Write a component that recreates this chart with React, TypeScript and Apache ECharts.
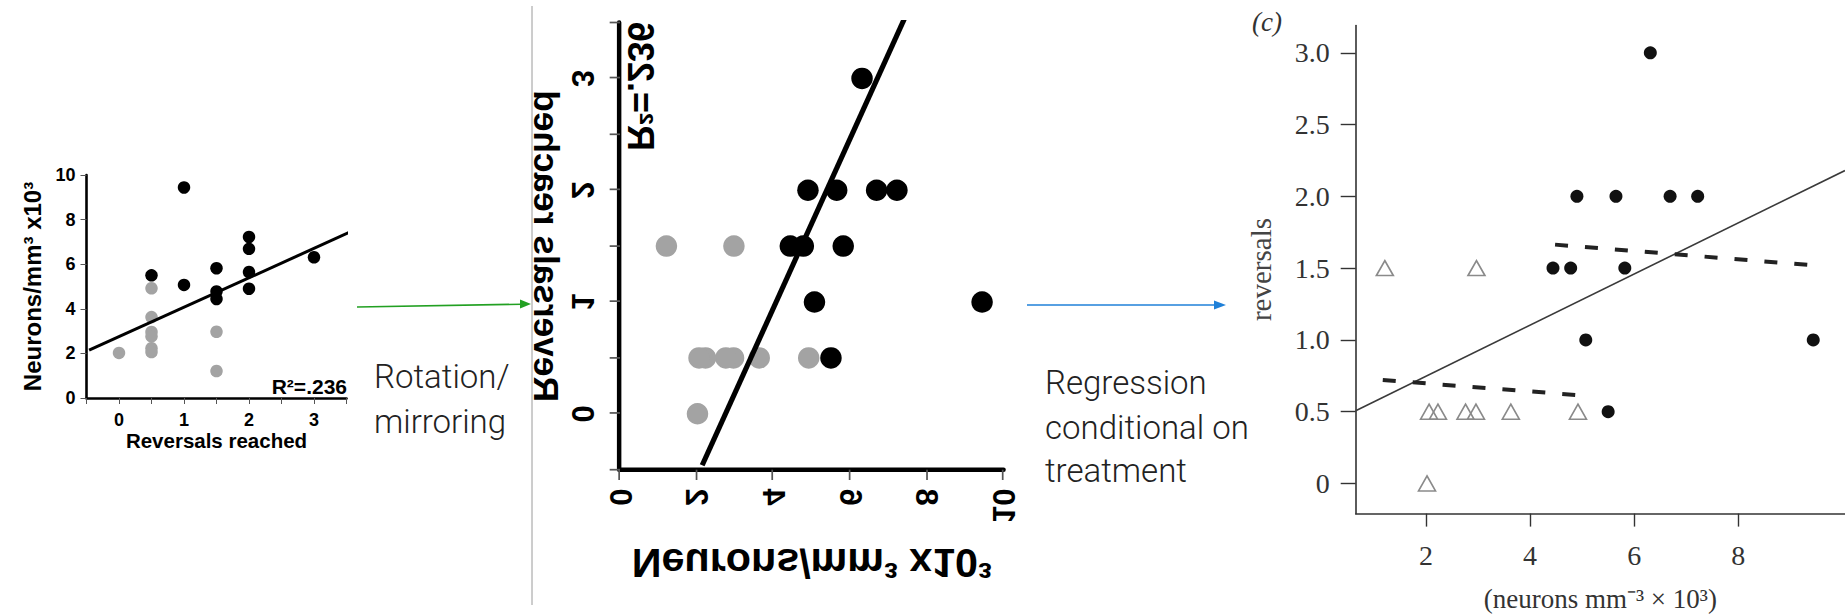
import React, { useEffect, useRef } from 'react';
import * as echarts from 'echarts';

// ---------- data ----------
const TREATED_REVERSALS = [1, 0.5, 1, 1.5, 1.5, 1.5, 2, 2, 2, 2, 3];
const TREATED_NEURONS = [9.44, 5.5, 5.07, 5.82, 4.78, 4.44, 7.22, 6.69, 5.65, 4.9, 6.31];
const CONTROL_REVERSALS = [0, 0.5, 0.5, 0.5, 0.5, 0.5, 0.5, 1.5, 1.5];
const CONTROL_NEURONS = [2.02, 4.92, 3.63, 2.96, 2.76, 2.23, 2.06, 2.97, 1.21];

const LEFT_REVERSAL_LABELS = [0, 1, 2, 3];
const RIGHT_NEURON_TICKS = [2, 4, 6, 8];
const RIGHT_REVERSAL_TICKS = [0, 0.5, 1, 1.5, 2, 2.5, 3];

// fitted lines: intercept, slope, drawn range
const FIT_NEURONS_ON_REVERSALS = { intercept: 2.75, slope: 1.32, from: -0.46, to: 3.56 };
const FIT_REVERSALS_ON_NEURONS = { intercept: 0.391, slope: 0.178, from: 0.65, to: 10.05 };
const FIT_TREATED = { intercept: 1.794, slope: -0.0291, from: 4.48, to: 9.46 };
const FIT_CONTROL = { intercept: 0.753, slope: -0.028, from: 1.17, to: 4.89 };

const R2_TEXT = 'R²=.236';

// ---------- layout ----------
const LEFT_GRID = { left: 86.5, top: 175, width: 260, height: 223 };
const MID_SCALE = 1.72;
const MID_ZERO_X = 620; // pixel of neurons = 0 in the mirrored panel
const MID_ZERO_Y = 413.8; // pixel of reversals = 0 in the mirrored panel
const LEFT_ZERO_X = 119; // pixel of reversals = 0 in the left panel
const LEFT_ZERO_Y = 398; // pixel of neurons = 0 in the left panel

const SANS_BOLD = { fontFamily: '"Liberation Sans", Arial, sans-serif', fontWeight: 'bold' as const, color: '#000' };
const SERIF = '"Liberation Serif", "Times New Roman", serif';
const LIGHT = 'Roboto, "Open Sans", sans-serif';
const GREEN = '#22a022';
const BLUE = '#1f80d8';

const pairs = (xs: number[], ys: number[]) => xs.map((x, i) => [x, ys[i]]);
const fitLine = (f: { intercept: number; slope: number; from: number; to: number }) => [
  [f.from, f.intercept + f.slope * f.from],
  [f.to, f.intercept + f.slope * f.to],
];

function panelOption(): any {
  return {
    animation: false,
    backgroundColor: 'transparent',
    grid: { ...LEFT_GRID, containLabel: false, outerBoundsMode: 'none' },
    xAxis: {
      type: 'value',
      min: -0.5,
      max: 3.5,
      interval: 0.5,
      axisLine: { show: true, onZero: false, lineStyle: { color: '#000', width: 2.6 } },
      axisTick: { show: true, length: 6, lineStyle: { color: '#555', width: 1 } },
      axisLabel: {
        show: true,
        margin: 13,
        fontSize: 18,
        ...SANS_BOLD,
        formatter: (v: number) => (LEFT_REVERSAL_LABELS.includes(v) ? String(v) : ''),
      },
      splitLine: { show: false },
      name: 'Reversals reached',
      nameLocation: 'middle',
      nameGap: 32,
      nameTextStyle: { fontSize: 20.5, ...SANS_BOLD },
    },
    yAxis: {
      type: 'value',
      min: 0,
      max: 10,
      interval: 2,
      axisLine: { show: true, onZero: false, lineStyle: { color: '#000', width: 2.6 } },
      axisTick: { show: true, length: 6, lineStyle: { color: '#555', width: 1 } },
      axisLabel: { show: true, margin: 11, fontSize: 18, ...SANS_BOLD },
      splitLine: { show: false },
      name: 'Neurons/mm³ x10³',
      nameLocation: 'middle',
      nameGap: 42,
      nameRotate: 90,
      nameTextStyle: { fontSize: 24, ...SANS_BOLD },
    },
    series: [
      {
        type: 'scatter',
        data: pairs(CONTROL_REVERSALS, CONTROL_NEURONS),
        symbol: 'circle',
        symbolSize: 12.5,
        itemStyle: { color: '#a3a3a3', opacity: 1 },
        z: 2,
      },
      {
        type: 'scatter',
        data: pairs(TREATED_REVERSALS, TREATED_NEURONS),
        symbol: 'circle',
        symbolSize: 12.5,
        itemStyle: { color: '#000', opacity: 1 },
        z: 3,
      },
      {
        type: 'line',
        data: fitLine(FIT_NEURONS_ON_REVERSALS),
        symbol: 'none',
        showSymbol: false,
        clip: false,
        lineStyle: { color: '#000', width: 3 },
        z: 4,
      },
    ],
    graphic: [
      {
        type: 'text',
        x: 347,
        y: 386,
        style: {
          text: R2_TEXT,
          fontFamily: SANS_BOLD.fontFamily,
          fontWeight: 'bold',
          fontSize: 21,
          fill: '#000',
          align: 'right',
          verticalAlign: 'middle',
        },
      },
    ],
  };
}

function mainOption(): any {
  const axisColor = '#333';
  return {
    animation: false,
    backgroundColor: '#fff',
    grid: { left: 1355.7, top: 25.5, width: 489.3, height: 488.1, containLabel: false, outerBoundsMode: 'none' },
    xAxis: {
      type: 'value',
      min: 0.65,
      max: 10.05,
      axisLine: { show: true, onZero: false, lineStyle: { color: axisColor, width: 1.6 } },
      axisTick: { show: true, customValues: RIGHT_NEURON_TICKS, length: 13, lineStyle: { color: axisColor, width: 1.4 } },
      axisLabel: {
        show: true,
        customValues: RIGHT_NEURON_TICKS,
        margin: 28,
        fontFamily: SERIF,
        fontSize: 28,
        color: axisColor,
      },
      splitLine: { show: false },
      name: '(neurons mm⁻³ × 10³)',
      nameLocation: 'middle',
      nameGap: 72,
      nameTextStyle: { fontFamily: SERIF, fontSize: 27, color: axisColor },
    },
    yAxis: {
      type: 'value',
      min: -0.21,
      max: 3.19,
      axisLine: { show: true, onZero: false, lineStyle: { color: axisColor, width: 1.6 } },
      axisTick: { show: true, customValues: RIGHT_REVERSAL_TICKS, length: 15, lineStyle: { color: axisColor, width: 1.4 } },
      axisLabel: {
        show: true,
        customValues: RIGHT_REVERSAL_TICKS,
        margin: 26,
        fontFamily: SERIF,
        fontSize: 28,
        color: axisColor,
        formatter: (v: number) => (v === 0 ? '0' : v.toFixed(1)),
      },
      splitLine: { show: false },
      name: 'reversals',
      nameLocation: 'middle',
      nameGap: 80,
      nameRotate: 90,
      nameTextStyle: { fontFamily: SERIF, fontSize: 29, color: '#444' },
    },
    series: [
      {
        type: 'scatter',
        data: pairs(CONTROL_NEURONS, CONTROL_REVERSALS),
        symbol: 'triangle',
        symbolSize: [17, 15],
        itemStyle: { color: 'rgba(255,255,255,0)', borderColor: '#8a8a8a', borderWidth: 1.6, opacity: 1 },
        z: 2,
      },
      {
        type: 'scatter',
        data: pairs(TREATED_NEURONS, TREATED_REVERSALS),
        symbol: 'circle',
        symbolSize: 13,
        itemStyle: { color: '#111', opacity: 1 },
        z: 3,
      },
      {
        type: 'line',
        data: fitLine(FIT_REVERSALS_ON_NEURONS),
        symbol: 'none',
        showSymbol: false,
        clip: false,
        lineStyle: { color: '#3a3a3a', width: 1.6 },
        z: 4,
      },
      {
        type: 'line',
        data: fitLine(FIT_TREATED),
        symbol: 'none',
        showSymbol: false,
        lineStyle: { color: '#222', width: 4, type: [13, 17] },
        z: 4,
      },
      {
        type: 'line',
        data: fitLine(FIT_CONTROL),
        symbol: 'none',
        showSymbol: false,
        lineStyle: { color: '#222', width: 4, type: [13, 17] },
        z: 4,
      },
    ],
    graphic: [
      { type: 'line', shape: { x1: 532, y1: 6, x2: 532, y2: 605 }, style: { stroke: '#9a9a9a', lineWidth: 1 } },
      { type: 'line', shape: { x1: 357, y1: 307, x2: 522, y2: 304.2 }, style: { stroke: GREEN, lineWidth: 1.6 } },
      { type: 'polygon', shape: { points: [[531, 304], [520, 299.6], [520, 308.6]] }, style: { fill: GREEN } },
      { type: 'line', shape: { x1: 1027, y1: 305, x2: 1216, y2: 305 }, style: { stroke: BLUE, lineWidth: 1.6 } },
      { type: 'polygon', shape: { points: [[1226, 305], [1214, 300.5], [1214, 309.5]] }, style: { fill: BLUE } },
      {
        type: 'text', x: 374, y: 376,
        style: { text: 'Rotation/', fontFamily: LIGHT, fontWeight: 300, fontSize: 33, fill: '#222', align: 'left', verticalAlign: 'middle' },
      },
      {
        type: 'text', x: 374, y: 421,
        style: { text: 'mirroring', fontFamily: LIGHT, fontWeight: 300, fontSize: 33, fill: '#222', align: 'left', verticalAlign: 'middle' },
      },
      {
        type: 'text', x: 1045, y: 382,
        style: { text: 'Regression', fontFamily: LIGHT, fontWeight: 300, fontSize: 33, fill: '#222', align: 'left', verticalAlign: 'middle' },
      },
      {
        type: 'text', x: 1045, y: 427,
        style: { text: 'conditional on', fontFamily: LIGHT, fontWeight: 300, fontSize: 33, fill: '#222', align: 'left', verticalAlign: 'middle' },
      },
      {
        type: 'text', x: 1045, y: 470,
        style: { text: 'treatment', fontFamily: LIGHT, fontWeight: 300, fontSize: 33, fill: '#222', align: 'left', verticalAlign: 'middle' },
      },
      {
        type: 'text', x: 1252, y: 22,
        style: { text: '(c)', fontFamily: SERIF, fontStyle: 'italic', fontSize: 27, fill: '#333', align: 'left', verticalAlign: 'middle' },
      },
    ],
  };
}

// mirrored panel: (X, Y) -> (MID_ZERO_X + k*(LEFT_ZERO_Y - Y), MID_ZERO_Y - k*(X - LEFT_ZERO_X))
const MID_E = MID_ZERO_X + MID_SCALE * LEFT_ZERO_Y;
const MID_F = MID_ZERO_Y + MID_SCALE * LEFT_ZERO_X;
const MID_TRANSFORM = `matrix(0, ${-MID_SCALE}, ${-MID_SCALE}, 0, ${MID_E}, ${MID_F})`;

export default function App() {
  const mainRef = useRef<HTMLDivElement>(null);
  const leftRef = useRef<HTMLDivElement>(null);
  const midRef = useRef<HTMLDivElement>(null);

  useEffect(() => {
    const main = echarts.init(mainRef.current!, null, { renderer: 'svg' });
    main.setOption(mainOption());
    const left = echarts.init(leftRef.current!, null, { renderer: 'svg' });
    left.setOption(panelOption());
    const mid = echarts.init(midRef.current!, null, { renderer: 'svg' });
    mid.setOption(panelOption());
    return () => {
      main.dispose();
      left.dispose();
      mid.dispose();
    };
  }, []);

  return (
    <div style={{ position: 'fixed', left: 0, top: 0, width: 1845, height: 616, background: '#fff', overflow: 'hidden' }}>
      <div ref={mainRef} style={{ position: 'absolute', left: 0, top: 0, width: 1845, height: 616 }} />
      <div ref={leftRef} style={{ position: 'absolute', left: 0, top: 0, width: 400, height: 470 }} />
      <div
        ref={midRef}
        style={{
          position: 'absolute',
          left: 0,
          top: 0,
          width: 400,
          height: 470,
          transformOrigin: '0 0',
          transform: MID_TRANSFORM,
        }}
      />
    </div>
  );
}
